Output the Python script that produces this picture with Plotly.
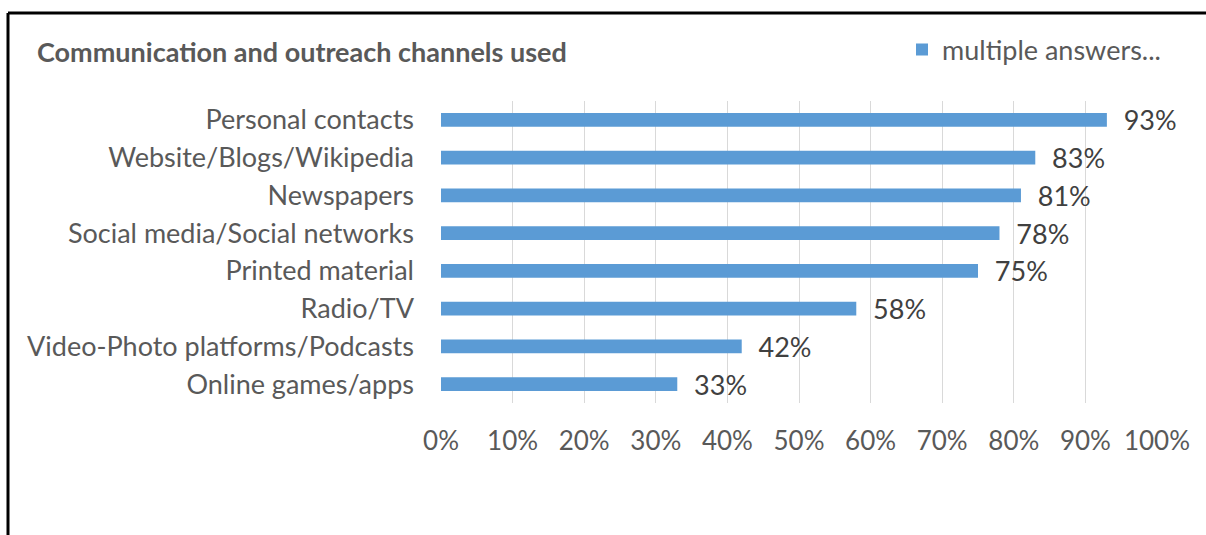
import plotly.graph_objects as go

categories = [
    "Personal contacts",
    "Website/Blogs/Wikipedia",
    "Newspapers",
    "Social media/Social networks",
    "Printed material",
    "Radio/TV",
    "Video-Photo platforms/Podcasts",
    "Online games/apps",
]
values = [0.93, 0.83, 0.81, 0.78, 0.75, 0.58, 0.42, 0.33]
tick_vals = [0, 0.1, 0.2, 0.3, 0.4, 0.5, 0.6, 0.7, 0.8, 0.9, 1.0]
tick_text = ["0%", "10%", "20%", "30%", "40%", "50%", "60%", "70%", "80%", "90%", "100%"]
series_name = "multiple answers..."
title_text = "Communication and outreach channels used"

FONT = "Lato"
OFF = 0  # page body margin removed via post_script
W, H = 1206 - OFF, 535 - OFF
# plot area in screen pixels
PX0, PX1, PY0, PY1 = 441, 1157, 101, 403
L = PX0 - OFF
R = W - (PX1 - OFF)
T = PY0 - OFF
B = H - (PY1 - OFF)

def px_x(p):
    return (p - PX0) / (PX1 - PX0)

def px_y(p):
    return (PY1 - p) / (PY1 - PY0)

fig = go.Figure()
fig.add_trace(go.Bar(
    x=values,
    y=categories,
    orientation="h",
    name=series_name,
    marker=dict(color="#5B9BD5", line=dict(width=0)),
    text=[f"\u00a0\u00a0{round(v*100)}%" for v in values],
    textposition="outside",
    constraintext="none",
    textfont=dict(family=FONT, size=27, color="#404040"),
    cliponaxis=False,
))

bx0, bx1, by0, by1 = px_x(8), px_x(1206), px_y(13), px_y(535)

fig.update_layout(
    width=W, height=H,
    margin=dict(l=L, r=R, t=T, b=B, pad=0),
    paper_bgcolor="white",
    plot_bgcolor="white",
    bargap=0.64,
    showlegend=True,
    legend=dict(
        x=px_x(902), y=px_y(50), xanchor="left", yanchor="middle",
        orientation="h",
        font=dict(family=FONT, size=27, color="#595959"),
        bgcolor="rgba(0,0,0,0)",
        itemwidth=30,
    ),
    font=dict(family=FONT, color="#595959"),
    xaxis=dict(
        range=[0, 1],
        tickvals=tick_vals,
        ticktext=tick_text,
        showgrid=True,
        gridcolor="#D9D9D9",
        gridwidth=1,
        zeroline=False,
        showline=False,
        tickfont=dict(family=FONT, size=26, color="#595959"),
        ticks="",
        ticklabelstandoff=20,
    ),
    yaxis=dict(
        autorange="reversed",
        showgrid=False,
        zeroline=False,
        showline=False,
        ticks="",
        tickfont=dict(family=FONT, size=27, color="#595959"),
        ticklabelstandoff=26,
    ),
    annotations=[dict(
        text=f"<b>{title_text}</b>",
        xref="paper", yref="paper",
        x=px_x(35), y=px_y(51),
        xanchor="left", yanchor="middle",
        showarrow=False,
        font=dict(family=FONT, size=27, color="#595959"),
    )],
    shapes=[
        dict(type="line", xref="paper", yref="paper",
             x0=bx0, x1=bx0, y0=by0, y1=by1,
             line=dict(color="black", width=3), layer="above"),
        dict(type="line", xref="paper", yref="paper",
             x0=bx0, x1=bx1, y0=by0, y1=by0,
             line=dict(color="black", width=3), layer="above"),
    ],
)

fig.write_html(
    "out.html",
    post_script="document.body.style.margin='0';document.body.style.overflow='hidden';document.documentElement.style.overflow='hidden';",
    config={"displayModeBar": False},
)
